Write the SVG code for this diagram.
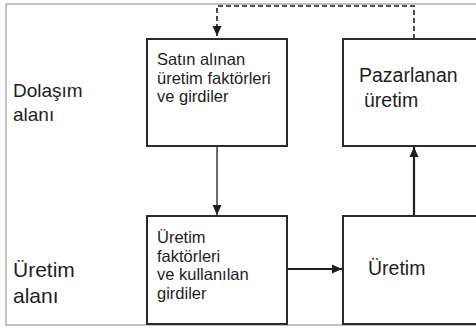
<svg xmlns="http://www.w3.org/2000/svg" width="476" height="329" viewBox="0 0 476 329">
<style>
.frame{fill:none;stroke:#9a9a9a;stroke-width:1.2}
.box{fill:#fff;stroke:#2b2b2b;stroke-width:2}
.t{font-family:"Liberation Sans",Arial,sans-serif;fill:#1e1e1e}
.c{fill:none;stroke:#1e1e1e}
</style>
<defs>
<marker id="ah" markerUnits="userSpaceOnUse" markerWidth="10" markerHeight="10" viewBox="0 0 10 10" refX="10" refY="5" orient="auto">
<path d="M0,0.5 L10,5 L0,9.5 Z" fill="#1e1e1e"/>
</marker>
</defs>
<rect width="476" height="329" fill="#fff"/>
<rect class="frame" x="6" y="4" width="480" height="321"/>
<g id="label-dolasim">
<text class="t" x="13" y="97" font-size="19">Dolaşım</text>
<text class="t" x="13" y="121" font-size="19">alanı</text>
</g>
<g id="label-uretim">
<text class="t" x="13" y="277" font-size="21">Üretim</text>
<text class="t" x="13" y="303" font-size="21">alanı</text>
</g>
<g id="connectors">
<path class="c" d="M414,39 V6 H217 V36" stroke-width="1.6" stroke-dasharray="5,3" marker-end="url(#ah)"/>
<path class="c" d="M217,147 V215" stroke-width="1.3" marker-end="url(#ah)"/>
<path class="c" d="M287,269 H342" stroke-width="2.2" marker-end="url(#ah)"/>
<path class="c" d="M414,216 V147" stroke-width="2.2" marker-end="url(#ah)"/>
</g>
<g id="node-satin">
<rect class="box" x="147" y="39" width="140" height="107"/>
<text class="t" font-size="16.5"><tspan x="157" y="65">Satın alınan</tspan><tspan x="157" y="83.5">üretim faktörleri</tspan><tspan x="157" y="102">ve girdiler</tspan></text>
</g>
<g id="node-pazarlanan">
<rect class="box" x="343" y="39" width="140" height="107"/>
<text class="t" font-size="19.5"><tspan x="359" y="82">Pazarlanan</tspan><tspan x="364" y="107">üretim</tspan></text>
</g>
<g id="node-faktorler">
<rect class="box" x="147" y="216" width="140" height="108"/>
<text class="t" font-size="16.5"><tspan x="157" y="243">Üretim</tspan><tspan x="157" y="261.5">faktörleri</tspan><tspan x="157" y="280">ve kullanılan</tspan><tspan x="157" y="298.5">girdiler</tspan></text>
</g>
<g id="node-uretim">
<rect class="box" x="343" y="216" width="140" height="108"/>
<text class="t" x="368" y="275" font-size="19.5">Üretim</text>
</g>
</svg>
